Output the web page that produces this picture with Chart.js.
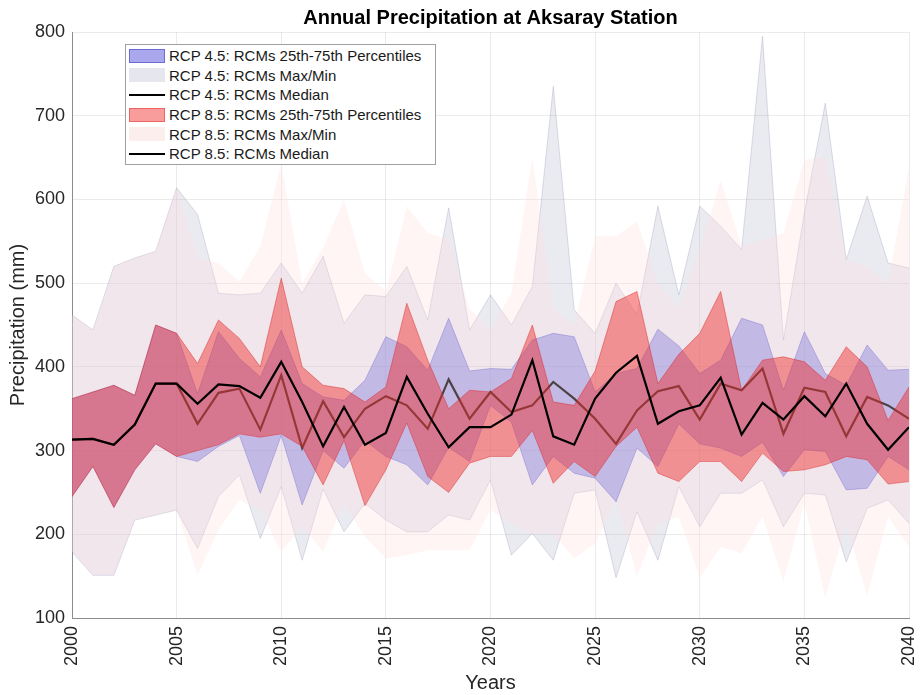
<!DOCTYPE html>
<html lang="en">
<head>
  <meta charset="UTF-8">
  <title>Annual Precipitation at Aksaray Station</title>
  <script src="https://cdn.jsdelivr.net/npm/chart.js@4.4.0/dist/chart.umd.min.js"></script>
  <style>
    body { margin: 0; background: #fff; }
    #wrap { position: relative; width: 921px; height: 695px; }
    #legend {
      position: absolute; left: 125px; top: 44px; width: 311px; height: 121px;
      box-sizing: border-box; background: #fff; border: 1px solid #a0a0a0;
      padding-top: 1px; font: 15px "Liberation Sans", Arial, sans-serif; color: #1a1a1a;
    }
    .row { height: 19.6px; display: flex; align-items: center; white-space: nowrap; }
    .sw { width: 36px; height: 14px; margin: 0 4px 0 3px; box-sizing: border-box; flex: none; }
    .ln { width: 36px; height: 2px; margin: 0 4px 0 3px; background: #000; flex: none; }
  </style>
</head>
<body>
<div id="wrap">
  <canvas id="chart" width="921" height="695"></canvas>
  <div id="legend"></div>
</div>
<script>
  // years on the x axis
  const years = [2000, 2001, 2002, 2003, 2004, 2005, 2006, 2007, 2008, 2009,
                 2010, 2011, 2012, 2013, 2014, 2015, 2016, 2017, 2018, 2019,
                 2020, 2021, 2022, 2023, 2024, 2025, 2026, 2027, 2028, 2029,
                 2030, 2031, 2032, 2033, 2034, 2035, 2036, 2037, 2038, 2039, 2040];

  // RCP 4.5 (mm)
  const rcp45Max = [462, 444, 520, 530, 538, 614, 582, 488, 486, 488,
                    524, 488, 532, 452, 486, 484, 520, 456, 590, 444,
                    486, 450, 496, 735, 468, 440, 500, 462, 592, 486,
                    592, 568, 540, 795, 432, 584, 715, 528, 604, 524, 518];
  const rcp45P75 = [362, 370, 378, 366, 450, 440, 368, 442, 410, 388,
                    444, 380, 364, 360, 384, 436, 424, 396, 458, 395,
                    398, 397, 432, 440, 436, 370, 392, 398, 445, 425,
                    392, 408, 458, 450, 372, 442, 392, 378, 426, 396, 397];
  const rcp45Med = [313, 314, 307, 331, 380, 380, 332, 369, 374, 325,
                    390, 303, 359, 316, 350, 365, 354, 326, 385, 338,
                    370, 346, 354, 382, 362, 338, 308, 348, 371, 377,
                    337, 380, 372, 398, 320, 375, 370, 317, 364, 354, 338];
  const rcp45P25 = [245, 281, 232, 277, 308, 293, 287, 305, 318, 249,
                    318, 235, 300, 279, 312, 293, 283, 259, 304, 287,
                    354, 334, 259, 293, 273, 267, 239, 303, 281, 332,
                    308, 303, 293, 310, 269, 301, 299, 253, 255, 293, 277];
  const rcp45Min = [179, 151, 151, 217, 223, 229, 183, 245, 271, 195,
                    257, 169, 254, 203, 237, 217, 203, 203, 223, 217,
                    265, 175, 201, 169, 249, 253, 148, 227, 169, 257,
                    209, 249, 249, 265, 209, 249, 247, 167, 231, 241, 213];

  // RCP 8.5 (mm)
  const rcp85Max = [462, 444, 520, 530, 538, 614, 530, 524, 502, 544,
                    643, 500, 542, 600, 512, 490, 592, 560, 552, 470,
                    444, 488, 651, 470, 450, 556, 556, 574, 500, 470,
                    540, 623, 544, 552, 560, 647, 651, 528, 520, 500, 639];
  const rcp85P75 = [362, 370, 378, 366, 450, 440, 404, 456, 434, 400,
                    506, 400, 378, 374, 358, 376, 476, 408, 350, 372,
                    370, 386, 450, 358, 354, 395, 478, 490, 380, 415,
                    440, 490, 372, 408, 412, 406, 384, 424, 400, 336, 376];
  const rcp85Med = [313, 314, 307, 331, 380, 380, 356, 379, 377, 363,
                    406, 358, 305, 352, 307, 321, 388, 344, 304, 328,
                    328, 343, 408, 317, 307, 362, 393, 413, 332, 347,
                    354, 387, 319, 357, 337, 365, 341, 380, 332, 301, 328];
  const rcp85P25 = [245, 281, 232, 277, 308, 293, 300, 307, 320, 316,
                    320, 305, 259, 312, 234, 277, 333, 269, 250, 285,
                    293, 293, 324, 261, 287, 269, 305, 328, 273, 263,
                    287, 287, 263, 297, 275, 277, 283, 293, 289, 260, 263];
  const rcp85Min = [179, 151, 151, 217, 223, 229, 151, 205, 241, 229,
                    179, 209, 179, 237, 197, 171, 175, 181, 181, 181,
                    229, 213, 201, 201, 171, 189, 241, 150, 213, 221,
                    148, 185, 177, 221, 144, 237, 124, 213, 126, 221, 185];

  const FONT = '"Liberation Sans", Arial, Helvetica, sans-serif';
  Chart.defaults.font.family = FONT;

  function pts(vals) {
    return vals.map((v, i) => ({ x: years[i], y: v }));
  }

  const blueFill = 'rgba(70,70,220,0.4)';
  const blueEdge = 'rgba(50,50,200,0.55)';
  const greyFill = 'rgba(150,150,185,0.2)';
  const greyEdge = 'rgba(120,120,160,0.4)';
  const redFill = 'rgba(240,40,40,0.45)';
  const redEdge = 'rgba(215,30,30,0.6)';
  const pinkFill = 'rgba(255,222,222,0.3)';

  const base = { pointRadius: 0, tension: 0, fill: false };

  const datasets = [
    { ...base, label: 'RCP 4.5: RCMs 25th-75th Percentiles', data: pts(rcp45P75), fill: '+1',
      backgroundColor: blueFill, borderColor: blueEdge, borderWidth: 0.7, order: 5,
      swatch: { bg: '#aaa8ec', border: '#6c6ad6' } },
    { ...base, data: pts(rcp45P25), borderColor: blueEdge, borderWidth: 0.7, order: 5 },
    { ...base, label: 'RCP 4.5: RCMs Max/Min', data: pts(rcp45Max), fill: '+1',
      backgroundColor: greyFill, borderColor: greyEdge, borderWidth: 0.6, order: 6,
      swatch: { bg: '#e6e6ee', border: '#e6e6ee' } },
    { ...base, data: pts(rcp45Min), borderColor: greyEdge, borderWidth: 0.6, order: 6 },
    { ...base, label: 'RCP 4.5: RCMs Median', data: pts(rcp45Med),
      borderColor: '#000', borderWidth: 2.2, order: 4, swatch: 'line' },
    { ...base, label: 'RCP 8.5: RCMs 25th-75th Percentiles', data: pts(rcp85P75), fill: '+1',
      backgroundColor: redFill, borderColor: redEdge, borderWidth: 0.7, order: 2,
      swatch: { bg: '#f99c9c', border: '#ee6464' } },
    { ...base, data: pts(rcp85P25), borderColor: redEdge, borderWidth: 0.7, order: 2 },
    { ...base, label: 'RCP 8.5: RCMs Max/Min', data: pts(rcp85Max), fill: '+1',
      backgroundColor: pinkFill, borderColor: 'rgba(0,0,0,0)', borderWidth: 0, order: 3,
      swatch: { bg: '#fdeeee', border: '#fdeeee' } },
    { ...base, data: pts(rcp85Min), borderColor: 'rgba(0,0,0,0)', borderWidth: 0, order: 3 },
    { ...base, label: 'RCP 8.5: RCMs Median', data: pts(rcp85Med),
      borderColor: '#000', borderWidth: 2.2, order: 1, swatch: 'line' }
  ];

  // legend box drawn over the plot, like the original figure
  const legend = document.getElementById('legend');
  datasets.filter(d => d.label).forEach(d => {
    const row = document.createElement('div');
    row.className = 'row';
    const sw = document.createElement('div');
    if (d.swatch === 'line') {
      sw.className = 'ln';
    } else {
      sw.className = 'sw';
      sw.style.background = d.swatch.bg;
      sw.style.border = '1px solid ' + d.swatch.border;
    }
    const txt = document.createElement('span');
    txt.textContent = d.label;
    row.appendChild(sw);
    row.appendChild(txt);
    legend.appendChild(row);
  });

  new Chart(document.getElementById('chart'), {
    type: 'line',
    data: { datasets: datasets },
    options: {
      responsive: false,
      animation: false,
      events: [],
      layout: { padding: { left: 0, right: 12, top: 0, bottom: 0 } },
      plugins: {
        legend: { display: false },
        tooltip: { enabled: false },
        title: {
          display: true,
          text: 'Annual Precipitation at Aksaray Station',
          fullSize: false,
          color: '#000',
          font: { size: 20, weight: 'bold' },
          padding: { top: 6, bottom: 2 }
        }
      },
      scales: {
        x: {
          type: 'linear',
          min: 2000,
          max: 2040,
          ticks: {
            stepSize: 5, autoSkip: false, minRotation: 90, maxRotation: 90,
            padding: 8, color: '#262626', font: { size: 18 },
            callback: v => String(v)
          },
          grid: { color: 'rgba(0,0,0,0.08)', drawTicks: false },
          border: { color: '#8c8c8c' },
          title: { display: true, text: 'Years', color: '#262626', font: { size: 20 }, padding: { top: 0, bottom: 0 } },
          afterFit: s => { s.height = 77; s.paddingLeft = 0; s.paddingRight = 0; }
        },
        y: {
          min: 100,
          max: 800,
          ticks: { stepSize: 100, padding: 7, color: '#262626', font: { size: 18 } },
          grid: { color: 'rgba(0,0,0,0.08)', drawTicks: false },
          border: { color: '#8c8c8c' },
          title: { display: true, text: 'Precipitation (mm)', color: '#262626', font: { size: 20 }, padding: { top: 6, bottom: 0 } },
          afterFit: s => { s.width = 72; }
        }
      }
    }
  });
</script>
</body>
</html>
